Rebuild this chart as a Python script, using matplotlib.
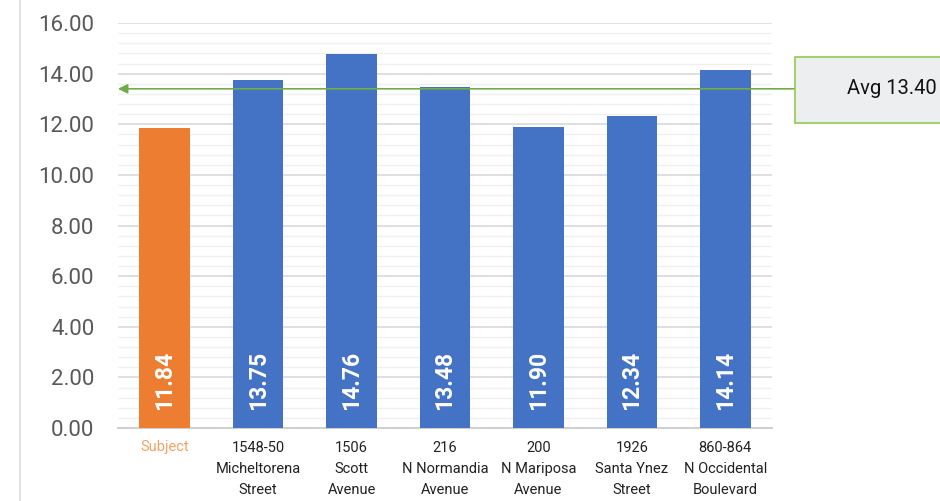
import matplotlib.pyplot as plt
from matplotlib.lines import Line2D
import numpy as np

categories = ['Subject', '1548-50\nMicheltorena\nStreet', '1506\nScott\nAvenue',
              '216\nN Normandia\nAvenue', '200\nN Mariposa\nAvenue',
              '1926\nSanta Ynez\nStreet', '860-864\nN Occidental\nBoulevard']
values = [11.84, 13.75, 14.76, 13.48, 11.90, 12.34, 14.14]
avg_value = 13.40

orange = '#ED7D31'
blue = '#4472C4'
green = '#70AD47'
font = ['Roboto', 'DejaVu Sans']

fig = plt.figure(figsize=(9.40, 5.01), dpi=100)
ax = fig.add_axes([118 / 940, 1 - 428 / 501, (772 - 118) / 940, (428 - 23) / 501])

x = np.arange(len(values))
colors = [orange] + [blue] * (len(values) - 1)
ax.bar(x, values, width=0.54, color=colors, zorder=3)

for xi, v in zip(x, values):
    ax.text(xi, 0.72, f'{v:.2f}', rotation=90, ha='center', va='bottom',
            color='white', fontsize=16.5, fontweight='bold', family=font, zorder=4)

ax.set_xlim(-0.5, 6.5)
ax.set_ylim(0, 16)
ax.set_yticks(np.arange(0, 16.01, 2))
ax.set_yticklabels([f'{t:.2f}' for t in np.arange(0, 16.01, 2)],
                   fontsize=16, color='#595959', family=font)
ax.set_yticks(np.arange(0, 16.01, 0.4), minor=True)
ax.grid(axis='y', which='major', color='#D9D9D9', linewidth=1.2, zorder=0)
ax.grid(axis='y', which='minor', color='#F0F0F0', linewidth=1.0, zorder=0)
ax.tick_params(axis='both', which='both', length=0)
ax.tick_params(axis='y', pad=17)

ax.set_xticks(x)
ax.set_xticklabels(categories, fontsize=10.5, family=font, linespacing=1.65)
ax.tick_params(axis='x', pad=9)
for lbl in ax.get_xticklabels():
    lbl.set_color('#222222')
ax.get_xticklabels()[0].set_color('#F4A261')

for side in ['top', 'right', 'left']:
    ax.spines[side].set_visible(False)
ax.spines['bottom'].set_color('#D0D0D0')
ax.spines['bottom'].set_linewidth(1.5)

# average marker: arrow from callout box back to the axis
box_x = 795 / 940
avg_y = ax.transData.transform((0, avg_value))
avg_fy = fig.transFigure.inverted().transform(avg_y)[1]
ax.annotate('', xy=(-0.5, avg_value), xycoords='data',
            xytext=(box_x, avg_fy), textcoords='figure fraction',
            arrowprops=dict(arrowstyle='-|>', color=green, lw=1.2,
                            mutation_scale=14, shrinkA=0, shrinkB=0),
            annotation_clip=False)
fig.patches.append(plt.Rectangle((box_x, 1 - 123 / 501), 0.2, 66 / 501,
                                 transform=fig.transFigure, facecolor='#EDEEF0',
                                 edgecolor='#92C94F', linewidth=1.2))
fig.text(847 / 940, avg_fy, f'Avg {avg_value:.2f}', fontsize=14.5, family=font,
         va='center', ha='left', color='#111111')

# thin frame line on the left
fig.add_artist(Line2D([20 / 940, 20 / 940], [0, 1], transform=fig.transFigure,
                      color='#DDDDDD', linewidth=1.2))

fig.savefig('out.png', dpi=100)
